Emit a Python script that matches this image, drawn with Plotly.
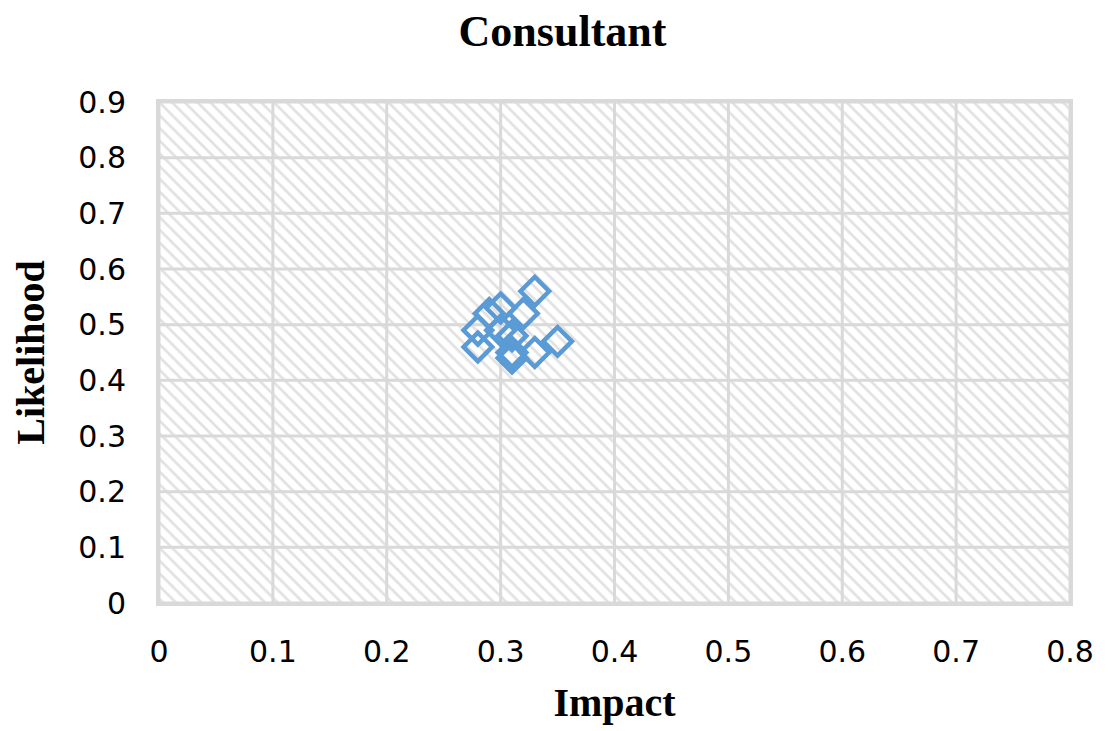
import plotly.graph_objects as go

impact = [0.33, 0.30, 0.29, 0.32, 0.28, 0.30, 0.31, 0.28, 0.31, 0.31, 0.33, 0.35]
likelihood = [0.56, 0.53, 0.52, 0.52, 0.49, 0.49, 0.48, 0.46, 0.45, 0.44, 0.45, 0.47]

x_range = [0, 0.8]
y_range = [0, 0.9]
x_ticks = [0, 0.1, 0.2, 0.3, 0.4, 0.5, 0.6, 0.7, 0.8]
y_ticks = [0, 0.1, 0.2, 0.3, 0.4, 0.5, 0.6, 0.7, 0.8, 0.9]

GRID = "#D9D9D9"

fig = go.Figure()

# hatched plot-area background
fig.add_trace(go.Scatter(
    x=[x_range[0], x_range[1], x_range[1], x_range[0], x_range[0]],
    y=[y_range[0], y_range[0], y_range[1], y_range[1], y_range[0]],
    fill="toself", mode="none", fillcolor="white",
    fillpattern=dict(shape="\\", fgcolor="#C4C4C4", bgcolor="white", size=9, solidity=0.3),
    hoverinfo="skip", showlegend=False,
))

# gridlines drawn over the hatch
gx, gy = [], []
for v in x_ticks:
    gx += [v, v, None]
    gy += [y_range[0], y_range[1], None]
for v in y_ticks:
    gx += [x_range[0], x_range[1], None]
    gy += [v, v, None]
fig.add_trace(go.Scatter(x=gx, y=gy, mode="lines", line=dict(color=GRID, width=3),
                         hoverinfo="skip", showlegend=False))

fig.add_trace(go.Scatter(
    x=impact, y=likelihood, mode="markers",
    marker=dict(symbol="diamond-open", size=22, color="#5B9BD5",
                line=dict(width=4.5, color="#5B9BD5")),
    showlegend=False,
))

fig.update_layout(
    width=1109, height=731,
    paper_bgcolor="white", plot_bgcolor="white",
    margin=dict(l=151, r=47, t=94, b=136),
    title=dict(text="<b>Consultant</b>", x=0.5, xanchor="center", y=0.99, yanchor="top",
               font=dict(family="Liberation Serif", size=44, color="black")),
    font=dict(family="DejaVu Sans", color="black"),
)
fig.update_xaxes(
    range=x_range, tickvals=x_ticks, ticktext=[("%g" % v) for v in x_ticks],
    showgrid=False,
    showline=True, linecolor=GRID, linewidth=3, mirror=True,
    zeroline=False, ticks="", ticklabelstandoff=20,
    tickfont=dict(family="DejaVu Sans", size=30, color="black"),
    title=dict(text="<b>Impact</b>", standoff=20,
               font=dict(family="Liberation Serif", size=40, color="black")),
)
fig.update_yaxes(
    range=y_range, tickvals=y_ticks, ticktext=[("%g" % v) for v in y_ticks],
    showgrid=False,
    showline=True, linecolor=GRID, linewidth=3, mirror=True,
    zeroline=False, ticks="", ticklabelstandoff=24,
    tickfont=dict(family="DejaVu Sans", size=30, color="black"),
    title=dict(text="<b>Likelihood</b>", standoff=22,
               font=dict(family="Liberation Serif", size=40, color="black")),
)

fig.write_html("out.html")
